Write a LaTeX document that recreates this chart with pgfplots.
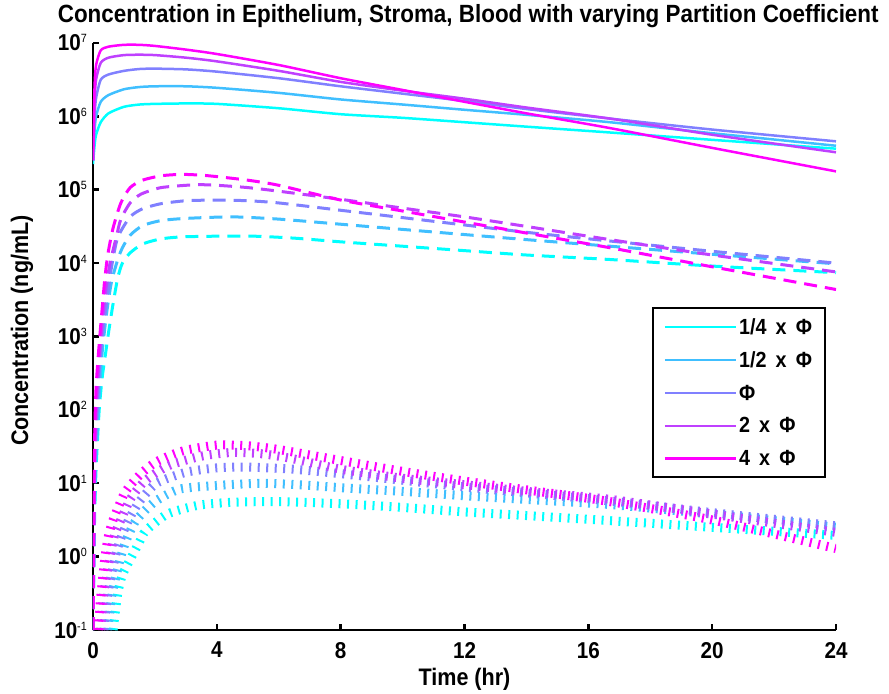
\documentclass[border=0pt]{standalone}
\usepackage{fontspec}
\setmainfont{Liberation Sans}[FakeStretch=0.9]
\usepackage{pgfplots}
\pgfplotsset{compat=1.18}
\definecolor{c1}{rgb}{0,1,1}
\definecolor{c2}{rgb}{0.25,0.75,1}
\definecolor{c3}{rgb}{0.5,0.5,1}
\definecolor{c4}{rgb}{0.75,0.25,1}
\definecolor{c5}{rgb}{1,0,1}
\newcommand\ex[1]{10\raisebox{8bp}{\fontsize{12}{12}\selectfont\mdseries #1}}
\begin{document}
\begin{tikzpicture}
\path[use as bounding box] (-93bp,-64bp) rectangle (796bp,630bp);
\begin{axis}[
  at={(0,0)}, anchor=south west, scale only axis,
  width=743bp, height=587bp,
  xmin=0, xmax=24, ymin=0.1, ymax=1e7, ymode=log,
  axis x line=bottom, axis y line=left,
  axis line style={-, line width=2.5bp, black},
  xtick={0,4,8,12,16,20,24},
  xticklabels={0,4,8,12,16,20,24},
  ytick={0.1,1,10,100,1000,1e4,1e5,1e6,1e7},
  yticklabels={\ex{-1},\ex{0},\ex{1},\ex{2},\ex{3},\ex{4},\ex{5},\ex{6},\ex{7}},
  yminorticks=false, xminorticks=false,
  tick align=inside, major tick length=6bp,
  tick style={line width=2.5bp, black},
  tick label style={font=\bfseries\fontsize{23}{23}\selectfont, inner sep=0pt},
  yticklabel style={anchor=east, xshift=-6bp},
  xticklabel style={anchor=north, yshift=-12bp},
  title={Concentration in Epithelium, Stroma, Blood with varying Partition Coefficient},
  title style={at={(axis description cs:0.505,1.024)}, anchor=base, inner sep=0pt, font=\bfseries\fontsize{25}{25}\selectfont},
  xlabel={Time (hr)},
  xlabel style={at={(axis description cs:0.5,-0.064)}, anchor=north, inner sep=0pt, font=\bfseries\fontsize{24}{24}\selectfont},
  ylabel={Concentration (ng/mL)},
  ylabel style={at={(axis description cs:-0.0956,0.51)}, anchor=center, inner sep=0pt, font=\bfseries\fontsize{24}{24}\selectfont},
  legend style={at={(0.9865,0.55)}, anchor=north east, draw=black, line width=2bp,
    font=\bfseries\fontsize{22}{22}\selectfont, inner xsep=11bp, inner ysep=8bp,
    row sep=12bp, cells={anchor=west}},
  legend image code/.code={\draw[#1, solid, line width=2.5bp] (0bp,0bp) -- (71bp,0bp);},
  ep/.style={line width=2.5bp, solid, smooth, tension=0.4},
  st/.style={line width=3bp, dash pattern=on 13bp off 8bp, smooth, tension=0.4},
  bl/.style={line width=9bp, dash pattern=on 2bp off 6.5bp, smooth, tension=0.4},
]
% Epithelium (solid)
\addplot[ep, c1] coordinates {(0,2.24e5) (0.05,3.98e5) (0.1,5.62e5) (0.25,8.32e5) (0.5,1.10e6) (1,1.35e6) (1.5,1.45e6) (2,1.48e6) (3,1.50e6) (4,1.48e6) (6,1.29e6) (8,1.07e6) (10,9.55e5) (12,8.32e5) (14,7.24e5) (16.7,6.03e5) (20,4.79e5) (24,3.63e5)};
\addlegendentry{1/4 \,x\, Φ}
\addplot[ep, c2] coordinates {(0,2.51e5) (0.05,6.31e5) (0.1,1.0e6) (0.25,1.58e6) (0.5,1.95e6) (1,2.34e6) (1.5,2.51e6) (2,2.57e6) (3,2.57e6) (4,2.45e6) (6,2.09e6) (8,1.70e6) (10,1.45e6) (12,1.23e6) (14,1.05e6) (16.7,8.32e5) (20,5.89e5) (24,3.98e5)};
\addlegendentry{1/2 \,x\, Φ}
\addplot[ep, c3] coordinates {(0,2.51e5) (0.05,1.0e6) (0.1,1.78e6) (0.25,3.16e6) (0.5,3.72e6) (1,4.17e6) (1.5,4.42e6) (2,4.47e6) (3,4.37e6) (4,4.07e6) (6,3.31e6) (8,2.57e6) (10,2.04e6) (12,1.62e6) (14,1.26e6) (16.7,9.33e5) (20,6.61e5) (24,4.57e5)};
\addlegendentry{Φ}
\addplot[ep, c4] coordinates {(0,2.51e5) (0.05,1.58e6) (0.1,3.16e6) (0.25,5.37e6) (0.5,6.31e6) (1,6.84e6) (1.5,6.92e6) (2,6.84e6) (3,6.31e6) (4,5.62e6) (6,4.17e6) (8,2.95e6) (10,2.24e6) (12,1.74e6) (14,1.32e6) (16.7,9.33e5) (20,5.62e5) (24,3.24e5)};
\addlegendentry{2 \,x\, Φ}
\addplot[ep, c5] coordinates {(0,2.51e5) (0.05,2.51e6) (0.1,5.01e6) (0.25,7.94e6) (0.5,8.91e6) (1,9.44e6) (1.5,9.44e6) (2,9.12e6) (3,8.13e6) (4,7.08e6) (6,5.01e6) (8,3.31e6) (10,2.29e6) (12,1.58e6) (14,1.10e6) (16.7,6.92e5) (20,3.72e5) (24,1.78e5)};
\addlegendentry{4 \,x\, Φ}
% Stroma (dashed)
\addplot[st, c1, forget plot] coordinates {(0,0.1) (0.05,3.16) (0.1,15.8) (0.2,100) (0.3,282) (0.4,562) (0.5,1120) (0.65,2820) (0.8,6310) (0.95,1.0e4) (1.2,1.38e4) (1.6,1.82e4) (2.2,2.14e4) (3,2.29e4) (5,2.34e4) (6.5,2.19e4) (8,1.95e4) (10,1.70e4) (12,1.48e4) (14,1.29e4) (16.7,1.12e4) (20,9.12e3) (24,7.41e3)};
\addplot[st, c2, forget plot] coordinates {(0,0.1) (0.05,5.01) (0.1,25.1) (0.2,158) (0.3,631) (0.45,2240) (0.6,5620) (0.8,1.12e4) (0.95,1.62e4) (1.2,2.40e4) (1.6,3.24e4) (2.2,3.80e4) (3,4.07e4) (4.5,4.27e4) (6,3.98e4) (8,3.39e4) (10,2.88e4) (12,2.45e4) (14,2.09e4) (16.7,1.70e4) (20,1.32e4) (24,9.77e3)};
\addplot[st, c3, forget plot] coordinates {(0,0.1) (0.05,7.94) (0.1,50.1) (0.2,316) (0.3,1000) (0.45,3160) (0.6,8910) (0.8,2.24e4) (1.2,4.27e4) (1.6,5.50e4) (2.2,6.46e4) (3,7.08e4) (4,7.24e4) (5,7.08e4) (6,6.61e4) (8,5.25e4) (10,4.17e4) (12,3.31e4) (14,2.63e4) (16.7,2.0e4) (20,1.45e4) (24,1.0e4)};
\addplot[st, c4, forget plot] coordinates {(0,0.1) (0.05,15.8) (0.1,100) (0.2,501) (0.3,1580) (0.4,3980) (0.55,1.0e4) (0.75,2.24e4) (0.9,3.98e4) (1.2,6.61e4) (1.55,8.71e4) (2.2,1.07e5) (3.3,1.17e5) (4,1.15e5) (5,1.07e5) (6,9.55e4) (8,7.41e4) (10,5.62e4) (12,4.27e4) (14,3.16e4) (16.7,2.09e4) (20,1.29e4) (24,7.59e3)};
\addplot[st, c5, forget plot] coordinates {(0,0.1) (0.05,31.6) (0.1,200) (0.2,794) (0.3,2510) (0.38,6030) (0.48,1.32e4) (0.65,3.02e4) (0.9,6.61e4) (1.2,1.07e5) (1.6,1.35e5) (2.2,1.55e5) (2.85,1.62e5) (3.5,1.58e5) (4,1.51e5) (5,1.35e5) (6,1.15e5) (8,7.24e4) (10,5.13e4) (12,3.63e4) (14,2.57e4) (16.7,1.62e4) (20,8.91e3) (24,4.37e3)};
% Blood (dotted)
\addplot[bl, c1, forget plot] coordinates {(0.65,0.1) (0.8,0.316) (0.95,0.562) (1.25,1) (1.5,1.58) (1.7,2.24) (2.4,3.80) (3.4,5.01) (4.5,5.50) (6,5.62) (8,5.25) (10,4.68) (12,4.07) (14,3.63) (16.7,3.09) (20,2.51) (24,1.95)};
\addplot[bl, c2, forget plot] coordinates {(0.48,0.1) (0.62,0.316) (0.9,1) (1.1,1.78) (1.4,3.16) (2.0,5.62) (2.8,8.32) (4,9.33) (5.5,10) (7,9.33) (8,8.71) (10,7.76) (12,6.76) (14,6.03) (16.7,5.13) (20,3.80) (24,2.51)};
\addplot[bl, c3, forget plot] coordinates {(0.35,0.1) (0.48,0.316) (0.72,1) (0.9,1.78) (1.15,3.16) (1.5,5.62) (2.05,10) (3,14.1) (4,16.2) (5,16.6) (6.5,15.5) (8,13.5) (10,11.0) (12,8.91) (14,7.41) (16.7,5.75) (20,3.98) (24,2.63)};
\addplot[bl, c4, forget plot] coordinates {(0.25,0.1) (0.35,0.316) (0.55,1) (0.7,2.0) (0.9,3.16) (1.2,6.03) (1.6,10) (2.0,13.5) (2.5,17.8) (3.5,23.4) (4.5,26.3) (5.5,25.1) (6.5,21.4) (8,15.5) (10,11.7) (12,9.55) (14,7.76) (16.7,6.03) (20,3.80) (24,2.14)};
\addplot[bl, c5, forget plot] coordinates {(0.17,0.1) (0.25,0.282) (0.39,1) (0.5,1.91) (0.65,3.16) (1.0,7.08) (1.26,10) (1.6,14.1) (2.0,19.1) (2.5,24.0) (3.0,28.2) (4.0,33.1) (5,32.4) (6,28.8) (8,20.4) (10,14.5) (12,10.7) (14,8.13) (16.7,5.62) (20,3.16) (24,1.29)};
\end{axis}
\end{tikzpicture}
\end{document}
